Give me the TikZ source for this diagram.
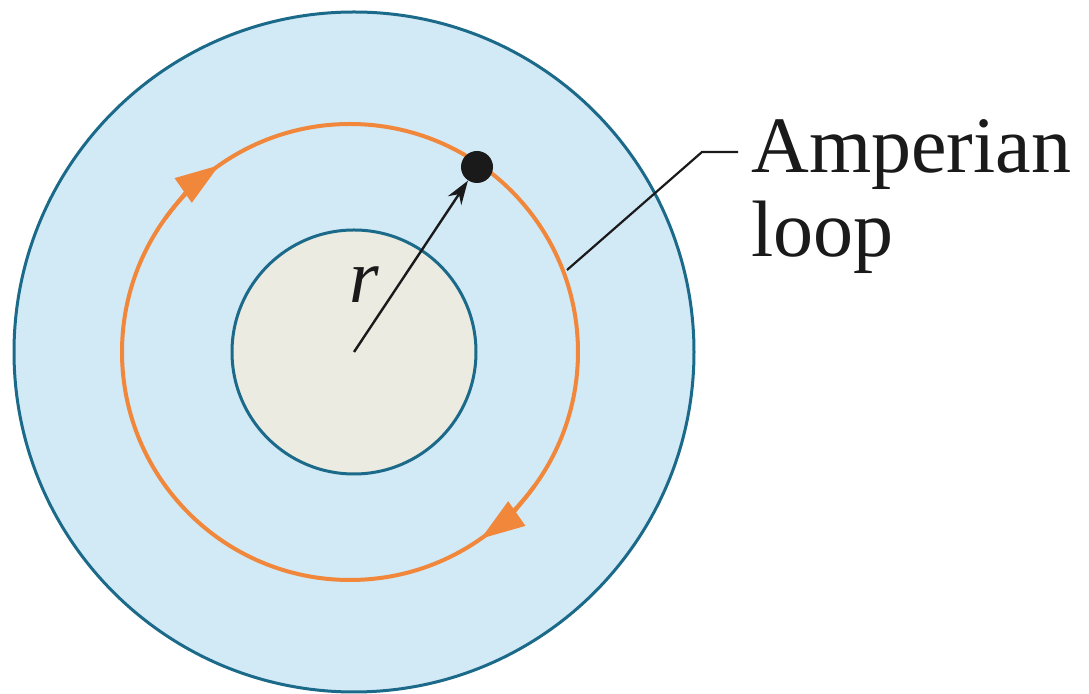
\documentclass[tikz,border=0pt]{standalone}
\usepackage{fontspec}
\setmainfont{Liberation Serif}
\usetikzlibrary{arrows.meta}
\definecolor{outerfill}{HTML}{D2E9F6}
\definecolor{innerfill}{HTML}{EBEBE2}
\definecolor{rim}{HTML}{1B6A89}
\definecolor{loopcol}{HTML}{F0873A}
\definecolor{ink}{HTML}{1A1A1A}
\tikzset{
  rimline/.style={draw=rim, line width=1.5pt},
  loopline/.style={draw=loopcol, line width=2pt},
  looparrow/.style={loopcol, line width=2pt, -{Triangle[length=22pt, width=14.5pt]}},
  lbl/.style={font=\fontsize{40}{42}\selectfont, text=ink, inner sep=0pt, anchor=base west},
}
\begin{document}
\begin{tikzpicture}[x=0.5pt, y=-0.5pt]
\useasboundingbox (0,0) rectangle (1089,694);
\coordinate (cen) at (354,352);
\coordinate (lc) at (350,352);
% outer conductor
\draw[rimline, fill=outerfill] (cen) circle[radius=340];
% inner region
\draw[rimline, fill=innerfill] (cen) circle[radius=122];
% Amperian loop
\draw[loopline] (lc) circle[radius=228];
\draw[looparrow] ([shift={(216:228)}]lc) arc (216:235:228);
\draw[looparrow] ([shift={(36:228)}]lc) arc (36:55:228);
% point and radius
\node[circle, fill=ink, minimum size=16pt, inner sep=0pt] (dot) at (477,167) {};
\draw[ink, line width=1.2pt, -{Stealth[length=12pt, width=8pt]}] (cen) -- (dot);
\node[font=\fontsize{38}{40}\selectfont\itshape, text=ink, inner sep=0pt, anchor=base] (rl) at (364,303) {r};
% label
\node[lbl] (t1) at (751,173) {Amperian};
\node[lbl] (t2) at (751,257) {loop};
\coordinate (lp) at (567,270);
\coordinate (lk) at (702,152);
\coordinate (le) at (738,152);
\draw[ink, line width=1.1pt] (lp) -- (lk) -- (le);
\end{tikzpicture}
\end{document}
